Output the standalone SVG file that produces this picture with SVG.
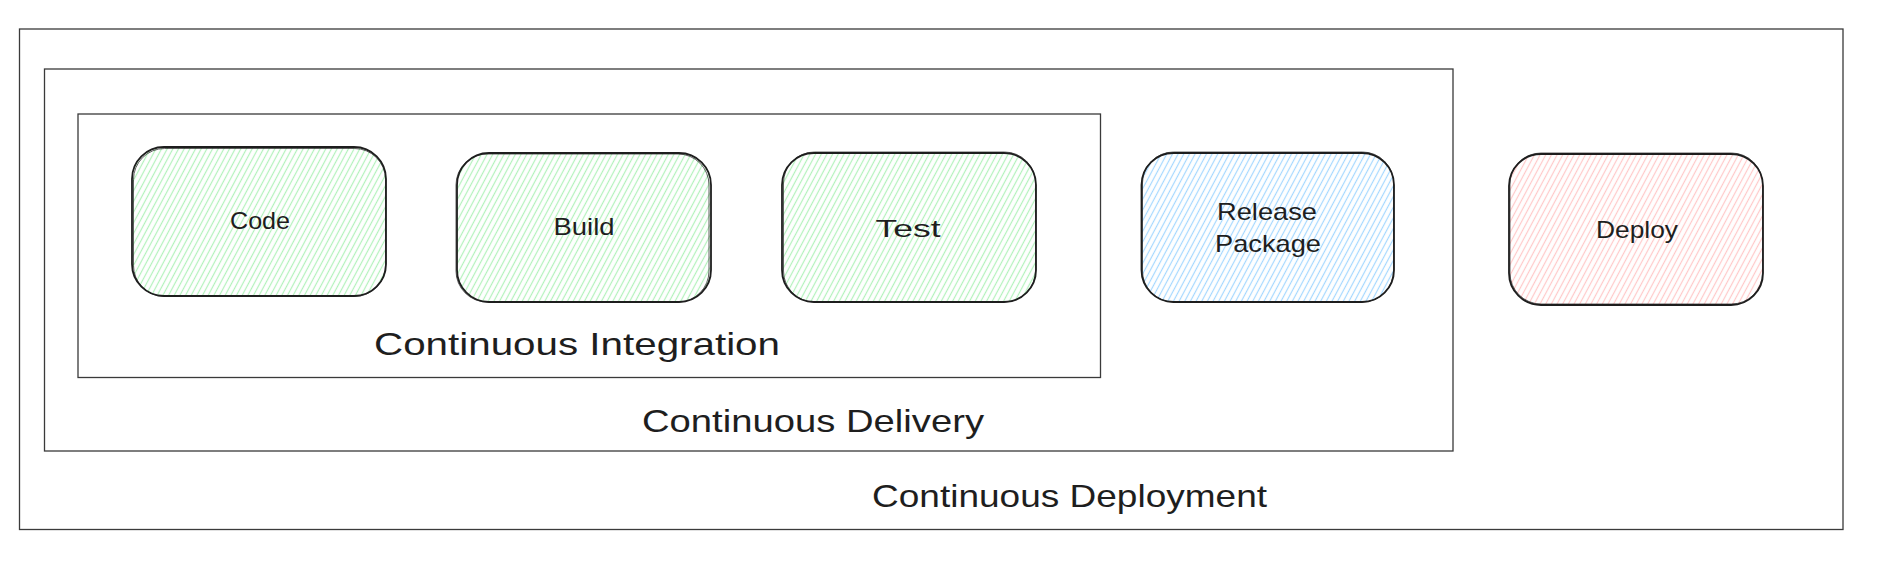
<svg xmlns="http://www.w3.org/2000/svg" width="1880" height="566" viewBox="0 0 1880 566">
<style>
.frame{fill:none;stroke:#3a3a3a;stroke-width:1.3}
.node{stroke:#1e1e1e;stroke-width:1.8}
.sk{fill:none;stroke:#1e1e1e;stroke-width:1;opacity:0.7}
.lbl{font-family:"Liberation Sans","DejaVu Sans",sans-serif;font-size:24px;fill:#1e1e1e;text-anchor:middle}
.title{font-family:"Liberation Sans","DejaVu Sans",sans-serif;font-size:32px;fill:#1e1e1e}
</style>
<defs>
<pattern id="hg" width="5" height="10" patternUnits="userSpaceOnUse" patternTransform="rotate(28)">
<rect width="5" height="10" fill="#ffffff"/>
<line x1="2.5" y1="0" x2="2.5" y2="10" stroke="#b2f2bb" stroke-width="1.2"/>
</pattern>
<pattern id="hb" width="5" height="10" patternUnits="userSpaceOnUse" patternTransform="rotate(28)">
<rect width="5" height="10" fill="#ffffff"/>
<line x1="2.5" y1="0" x2="2.5" y2="10" stroke="#a5d8ff" stroke-width="1.2"/>
</pattern>
<pattern id="hr" width="5" height="10" patternUnits="userSpaceOnUse" patternTransform="rotate(28)">
<rect width="5" height="10" fill="#ffffff"/>
<line x1="2.5" y1="0" x2="2.5" y2="10" stroke="#ffc9c9" stroke-width="1.2"/>
</pattern>
</defs>
<rect width="1880" height="566" fill="#ffffff"/>

<g id="continuous-deployment">
<rect class="frame" x="19.5" y="29" width="1823.5" height="500.5"/>
<text class="title" x="872" y="507" textLength="395" lengthAdjust="spacingAndGlyphs">Continuous Deployment</text>
</g>
<g id="continuous-delivery">
<rect class="frame" x="44.5" y="69" width="1408.5" height="382"/>
<text class="title" x="642" y="432" textLength="342" lengthAdjust="spacingAndGlyphs">Continuous Delivery</text>
</g>
<g id="continuous-integration">
<rect class="frame" x="78" y="114" width="1022.5" height="263.5"/>
<text class="title" x="374" y="355" textLength="406" lengthAdjust="spacingAndGlyphs">Continuous Integration</text>
</g>

<g id="code">
<rect class="node" x="132" y="147" width="254" height="149" rx="32" fill="url(#hg)"/>
<rect class="sk" x="133.5" y="148.5" width="252" height="148" rx="31"/>
<text class="lbl" x="260" y="229" textLength="60" lengthAdjust="spacingAndGlyphs">Code</text>
</g>
<g id="build">
<rect class="node" x="457" y="153" width="254" height="149" rx="32" fill="url(#hg)"/>
<rect class="sk" x="456" y="154" width="253" height="148" rx="31"/>
<text class="lbl" x="584" y="235" textLength="61" lengthAdjust="spacingAndGlyphs">Build</text>
</g>
<g id="test">
<rect class="node" x="782" y="153" width="254" height="149" rx="32" fill="url(#hg)"/>
<rect class="sk" x="783.5" y="152" width="252" height="150" rx="31"/>
<text class="lbl" x="908" y="237" textLength="65" lengthAdjust="spacingAndGlyphs">Test</text>
</g>
<g id="release-package">
<rect class="node" x="1141.5" y="153" width="252.5" height="149" rx="32" fill="url(#hb)"/>
<rect class="sk" x="1142.5" y="152" width="251" height="150" rx="31"/>
<text class="lbl" x="1267" y="220" textLength="100" lengthAdjust="spacingAndGlyphs">Release</text>
<text class="lbl" x="1268" y="252" textLength="106" lengthAdjust="spacingAndGlyphs">Package</text>
</g>
<g id="deploy">
<rect class="node" x="1509" y="154" width="254" height="151" rx="32" fill="url(#hr)"/>
<rect class="sk" x="1510" y="153" width="252.5" height="151" rx="31"/>
<text class="lbl" x="1637" y="238" textLength="82" lengthAdjust="spacingAndGlyphs">Deploy</text>
</g>

<g id="connectors"></g>
</svg>
